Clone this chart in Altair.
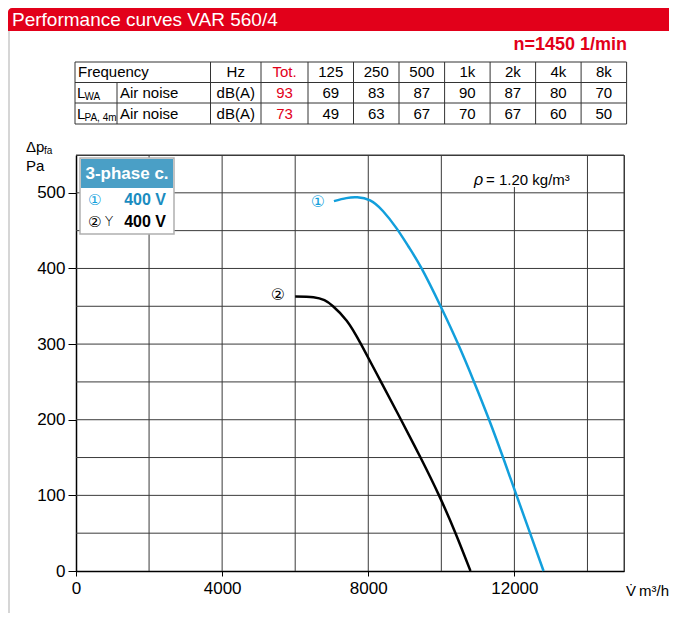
import altair as alt
import pandas as pd

# ---------------- data ----------------
title_text = "Performance curves VAR 560/4"
speed_text = "n=1450 1/min"
freq_labels = ["Tot.", "125", "250", "500", "1k", "2k", "4k", "8k"]
lwa_values = ["93", "69", "83", "87", "90", "87", "80", "70"]
lpa_values = ["73", "49", "63", "67", "70", "67", "60", "50"]

curve1_flow = [7060, 7400, 7700, 8050, 8400, 8776, 9100, 9460, 9980, 10459, 10896, 11307, 11690, 12059, 12429, 12798]
curve1_dp = [489, 493, 494, 490, 476, 453, 429, 400, 350, 300, 250, 200, 150, 100, 50, 0]
curve2_flow = [6000, 6500, 6800, 7035, 7410, 7801, 8349, 8896, 9430, 9936, 10388, 10798]
curve2_dp = [363, 362, 358, 350, 331, 300, 250, 200, 150, 100, 50, 0]

x_ticks = [0, 4000, 8000, 12000]
y_ticks = [0, 100, 200, 300, 400, 500]
x_grid = [2000, 4000, 6000, 8000, 10000, 12000, 14000]
y_grid = [50, 100, 150, 200, 250, 300, 350, 400, 450, 500]

XMAX, YMAX = 15000, 550
W, H = 548, 416
LEFT, TOP = 76, 155  # page coords of plot area


def dx(px):
    return (px - LEFT) / W * XMAX


def dy(py):
    return (TOP + H - py) / H * YMAX


FONT = "Liberation Sans"
NARROW = "Liberation Sans Narrow, Liberation Sans"
RED = "#e2001a"
BLUE = "#129fdc"

xs = alt.Scale(domain=[0, XMAX], nice=False, zero=False)
ys = alt.Scale(domain=[0, YMAX], nice=False, zero=False)
x_axis = alt.Axis(values=x_ticks, format="d", title=None, grid=False, labelFont=FONT, labelFontSize=17,
                  labelColor="black", tickColor="black", domainColor="black", tickSize=5,
                  labelPadding=4, domainWidth=1.5, labelFlush=False)
y_axis = alt.Axis(values=y_ticks, format="d", title=None, grid=False, labelFont=FONT, labelFontSize=17,
                  labelColor="black", tickColor="black", domainColor="black", tickSize=8,
                  labelPadding=3, domainWidth=1.5, labelFlush=False)


def X(f):
    return alt.X(f, type="quantitative", scale=xs, axis=x_axis)


def Y(f):
    return alt.Y(f, type="quantitative", scale=ys, axis=y_axis)


def X2(f):
    return alt.X2(f)


def Y2(f):
    return alt.Y2(f)


layers = []


def txt(px, py, t, **kw):
    df = pd.DataFrame({"x": [dx(px)], "y": [dy(py)], "t": [t]})
    return alt.Chart(df).mark_text(baseline="middle", **kw).encode(x=X("x"), y=Y("y"), text="t:N")


def box(x1, x2, y1, y2, **kw):
    df = pd.DataFrame({"x": [dx(x1)], "x2": [dx(x2)], "y": [dy(y1)], "y2": [dy(y2)]})
    return alt.Chart(df).mark_rect(**kw).encode(x=X("x"), x2=X2("x2"), y=Y("y"), y2=Y2("y2"))


# page frame line on the left
frame = pd.DataFrame({"x": [dx(9)], "y": [dy(29)], "y2": [dy(613)]})
layers.append(alt.Chart(frame).mark_rule(color="#c8c8c8", strokeWidth=1.5).encode(
    x=X("x"), y=Y("y"), y2=Y2("y2")))

# title bar
layers.append(box(8, 669, 8, 31, color=RED, cornerRadiusTopLeft=4))
layers.append(txt(12, 19.5, title_text, align="left", font=FONT, fontSize=19, color="white"))

# speed
layers.append(txt(627, 45, speed_text, align="right", font=FONT, fontSize=18, fontWeight="bold", color=RED))

# ---------------- noise table ----------------
col_b = [75, 210.5, 261, 308, 353.5, 399, 444.6, 490.1, 535.6, 581.1, 626.6]
row_b = [62, 82.5, 103, 124]
segs = []
for yb in row_b:
    segs.append((75, 626.6, yb, yb))
for xb in col_b:
    segs.append((xb, xb, row_b[0], row_b[-1]))
segs.append((117, 117, row_b[1], row_b[-1]))
tb = pd.DataFrame([{"x": dx(a), "x2": dx(b), "y": dy(c), "y2": dy(d)} for a, b, c, d in segs])
layers.append(alt.Chart(tb).mark_rule(color="#333333", strokeWidth=1).encode(
    x=X("x"), x2=X2("x2"), y=Y("y"), y2=Y2("y2")))

cells = []
rc = [(row_b[i] + row_b[i + 1]) / 2 for i in range(3)]
cells.append(("Frequency", 78, rc[0], "left", "black"))
cells.append(("Air noise", 120, rc[1], "left", "black"))
cells.append(("Air noise", 120, rc[2], "left", "black"))
cells.append(("Hz", (col_b[1] + col_b[2]) / 2, rc[0], "center", "black"))
cells.append(("dB(A)", (col_b[1] + col_b[2]) / 2, rc[1], "center", "black"))
cells.append(("dB(A)", (col_b[1] + col_b[2]) / 2, rc[2], "center", "black"))
for j in range(len(freq_labels)):
    cx = (col_b[j + 2] + col_b[j + 3]) / 2
    colr = RED if j == 0 else "black"
    cells.append((freq_labels[j], cx, rc[0], "center", colr))
    cells.append((lwa_values[j], cx, rc[1], "center", colr))
    cells.append((lpa_values[j], cx, rc[2], "center", colr))
cells.append(("L", 77, rc[1], "left", "black"))
cells.append(("L", 77, rc[2], "left", "black"))
for al in ["left", "center"]:
    for colr in ["black", RED]:
        sub = [c for c in cells if c[3] == al and c[4] == colr]
        if not sub:
            continue
        df = pd.DataFrame([{"t": t, "x": dx(a), "y": dy(b)} for t, a, b, _, _ in sub])
        layers.append(alt.Chart(df).mark_text(
            align=al, baseline="middle", font=NARROW, fontSize=15, color=colr).encode(
            x=X("x"), y=Y("y"), text="t:N"))
layers.append(txt(84.5, rc[1] + 4, "WA", align="left", font=NARROW, fontSize=10, color="black"))
layers.append(txt(84.5, rc[2] + 4, "PA, 4m", align="left", font=NARROW, fontSize=10, color="black"))

# ---------------- grid ----------------
vg = pd.DataFrame({"x": x_grid + [XMAX]})
vg["y0"] = 0
vg["y1"] = YMAX
layers.append(alt.Chart(vg).mark_rule(color="#3a3a3a", strokeWidth=1).encode(
    x=X("x"), y=Y("y0"), y2=Y2("y1")))
hg = pd.DataFrame({"y": y_grid + [YMAX]})
hg["x0"] = 0
hg["x1"] = XMAX
layers.append(alt.Chart(hg).mark_rule(color="#3a3a3a", strokeWidth=1).encode(
    y=Y("y"), x=X("x0"), x2=X2("x1")))

# density note with white background
layers.append(box(470, 583, 156, 187, color="white"))
layers.append(txt(474, 180, "\u03c1", align="left", font=FONT, fontSize=16, fontStyle="italic", color="black"))
layers.append(txt(486, 180, "= 1.20 kg/m\u00b3", align="left", font=FONT, fontSize=15, color="black"))

# ---------------- curves ----------------
c1 = pd.DataFrame({"q": curve1_flow, "p": curve1_dp})
c2 = pd.DataFrame({"q": curve2_flow, "p": curve2_dp})
layers.append(alt.Chart(c1).mark_line(color=BLUE, strokeWidth=2.5, interpolate="natural").encode(
    x=X("q"), y=Y("p")))
layers.append(alt.Chart(c2).mark_line(color="black", strokeWidth=2.5, interpolate="natural").encode(
    x=X("q"), y=Y("p")))

# curve labels
layers.append(txt(318, 202, "\u2460", align="center", font="DejaVu Sans", fontSize=16, color=BLUE))
layers.append(txt(278, 295, "\u2461", align="center", font="DejaVu Sans", fontSize=16, color="black"))

# ---------------- legend box ----------------
layers.append(box(80, 174, 158, 234, fill="white", stroke="#b0b0b0", strokeWidth=1.5))
layers.append(box(81, 173, 159, 188, color="#4a9fc6"))
layers.append(txt(127, 174, "3-phase c.", align="center", font=NARROW, fontSize=17, fontWeight="bold", color="white"))
layers.append(txt(88, 200, "\u2460", align="left", font="DejaVu Sans", fontSize=15, color=BLUE))
layers.append(txt(88, 222, "\u2461", align="left", font="DejaVu Sans", fontSize=15, color="black"))
layers.append(txt(109, 222, "Y", align="center", font="DejaVu Sans", fontSize=14, fontWeight=200, color="black"))
layers.append(txt(166, 200, "400 V", align="right", font=NARROW, fontSize=16, fontWeight="bold", color="#1a8cc0"))
layers.append(txt(166, 222, "400 V", align="right", font=NARROW, fontSize=16, fontWeight="bold", color="black"))

# ---------------- axis titles ----------------
layers.append(txt(26, 147, "\u0394p", align="left", font=FONT, fontSize=15, color="black"))
layers.append(txt(44, 151, "fa", align="left", font=FONT, fontSize=10, color="black"))
layers.append(txt(26, 166, "Pa", align="left", font=FONT, fontSize=15, color="black"))
layers.append(txt(626, 591, "V\u0307", align="left", font=FONT, fontSize=15, color="black"))
layers.append(txt(669, 591, "m\u00b3/h", align="right", font=FONT, fontSize=15, color="black"))

chart = alt.layer(*layers).properties(
    width=W, height=H,
    padding={"left": 68, "top": 147, "right": 45, "bottom": 42},
    autosize=alt.AutoSizeParams(type="none"),
    background="white",
).configure_view(stroke="#3a3a3a", strokeWidth=1)

chart.save("out.html", embed_options={"renderer": "svg", "actions": False})
